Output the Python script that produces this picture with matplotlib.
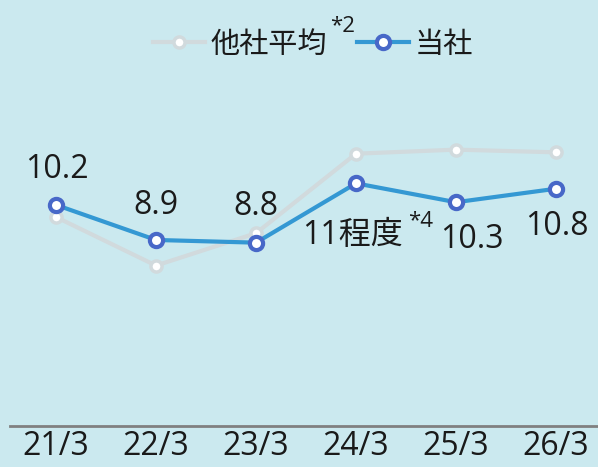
import numpy as np
import matplotlib.pyplot as plt
from matplotlib.lines import Line2D

plt.rcParams['font.family'] = ['Open Sans', 'Noto Sans CJK JP', 'DejaVu Sans']

periods = ['21/3', '22/3', '23/3', '24/3', '25/3', '26/3']
own_values = [10.2, 8.9, 8.8, 11.0, 10.3, 10.8]
own_labels = ['10.2', '8.9', '8.8', '11程度', '10.3', '10.8']
peer_values = [9.75, 7.95, 9.15, 12.1, 12.25, 12.15]

bg = '#cbe9ef'
blue_line = '#3498d3'
blue_edge = '#4868c8'
gray_line = '#d1dadd'
ink = '#1a1a1a'

fig = plt.figure(figsize=(5.98, 4.67), dpi=100, facecolor=bg)
ax = fig.add_axes([10 / 598, 41 / 467, 588 / 598, 426 / 467])
ax.set_facecolor(bg)

x = np.arange(len(periods))
ax.plot(x, peer_values, color=gray_line, lw=3, marker='o', ms=8,
        mfc='white', mec=gray_line, mew=2.5, zorder=2)
ax.plot(x, own_values, color=blue_line, lw=3, marker='o', ms=9.5,
        mfc='white', mec=blue_edge, mew=3, zorder=3)

# value labels: above for the first three, below afterwards
offsets = [(1, 35), (0, 34), (0, 36), (-4, -52), (16, -37), (1, -38)]
for xi, v, lab, (dx, dy) in zip(x, own_values, own_labels, offsets):
    ax.annotate(lab, (xi, v), xytext=(dx, dy), textcoords='offset pixels',
                ha='center', va='center', fontsize=23, color=ink)
ax.annotate('*4', (x[3], own_values[3]), xytext=(65, -38),
            textcoords='offset pixels', ha='center', va='center',
            fontsize=16, color=ink)

ax.set_xlim(-0.46, 5.42)
ax.set_ylim(2.0, 17.8)
ax.set_xticks(x)
ax.set_xticklabels(periods, fontsize=23, color=ink)
ax.tick_params(axis='x', length=0, pad=3)
ax.set_yticks([])
for side in ['top', 'right', 'left']:
    ax.spines[side].set_visible(False)
ax.spines['bottom'].set_color('#808080')
ax.spines['bottom'].set_linewidth(2)

handles = [
    Line2D([], [], color=gray_line, lw=3, marker='o', ms=8, mfc='white',
           mec=gray_line, mew=2.5),
    Line2D([], [], color=blue_line, lw=3, marker='o', ms=9.5, mfc='white',
           mec=blue_edge, mew=3),
]
ax.legend(handles, ['他社平均', '当社'], loc='upper center',
          bbox_to_anchor=(0.515, 0.99), ncol=2, frameon=False, fontsize=21,
          handlelength=1.8, handletextpad=0.2, columnspacing=1.0,
          labelcolor=ink)
fig.text(343 / 598, 1 - 26 / 467, '*2', fontsize=16, color=ink,
         ha='center', va='center')

fig.savefig('out.png', dpi=100, facecolor=bg)
